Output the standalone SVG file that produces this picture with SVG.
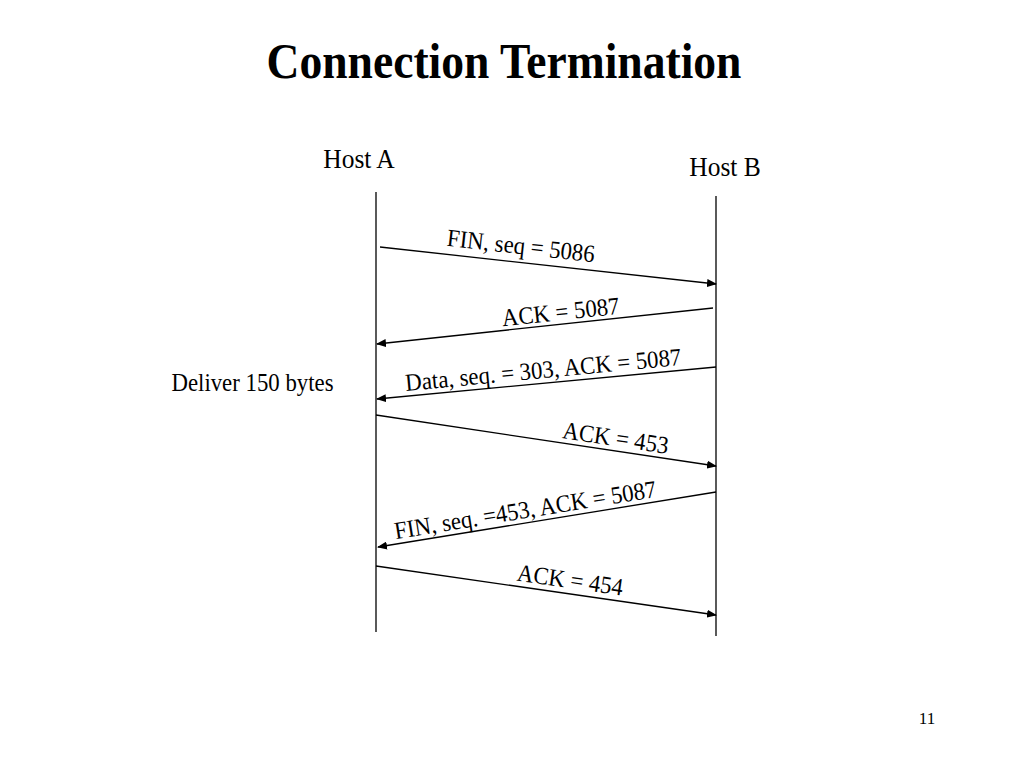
<svg xmlns="http://www.w3.org/2000/svg" width="1024" height="768" viewBox="0 0 1024 768">
<defs>
<marker id="ah" markerWidth="10" markerHeight="8" refX="9" refY="4" orient="auto" markerUnits="userSpaceOnUse">
<path d="M0,0 L10,4 L0,8 Z" fill="#000"/>
</marker>
<style>
text{font-family:"Liberation Serif","Times New Roman",serif;fill:#000}
.lbl{font-size:22.8px;text-anchor:middle}
.host{font-size:25.5px;text-anchor:middle}
.line{stroke:#000;stroke-width:1.3;fill:none}
.msg{stroke:#000;stroke-width:1.3;fill:none;marker-end:url(#ah)}
</style>
</defs>
<rect width="1024" height="768" fill="#fff"/>
<text font-size="45.6" font-weight="bold" text-anchor="middle" transform="translate(504,78) scale(1,1.1)">Connection Termination</text>
<g id="hostA">
<text class="host" transform="translate(359,168) scale(1,1.05)">Host A</text>
<line x1="376" y1="192" x2="376" y2="632" class="line"/>
</g>
<g id="hostB">
<text class="host" transform="translate(725,176) scale(1,1.05)">Host B</text>
<line x1="716" y1="196" x2="716" y2="636" class="line"/>
</g>
<g id="deliver">
<text class="lbl" transform="translate(252.5,391) scale(1,1.08)">Deliver 150 bytes</text>
</g>
<g id="connectors">
<line x1="380" y1="247" x2="716" y2="284" class="msg"/>
<text class="lbl" transform="translate(520,254) rotate(6.3) scale(1,1.08)">FIN, seq = 5086</text>
<line x1="713" y1="308" x2="377" y2="344" class="msg"/>
<text class="lbl" transform="translate(561.5,320) rotate(-6.1) scale(1,1.08)">ACK = 5087</text>
<line x1="716" y1="367" x2="377" y2="399" class="msg"/>
<text class="lbl" transform="translate(544,378) rotate(-5.4) scale(1,1.08)">Data, seq. = 303, ACK = 5087</text>
<line x1="376" y1="415" x2="716" y2="466" class="msg"/>
<text class="lbl" transform="translate(614.5,446) rotate(8.5) scale(1,1.08)">ACK = 453</text>
<line x1="716" y1="492" x2="378" y2="547" class="msg"/>
<text class="lbl" transform="translate(526.5,518) rotate(-9.2) scale(1,1.08)">FIN, seq. =453, ACK = 5087</text>
<line x1="376" y1="566" x2="716" y2="615" class="msg"/>
<text class="lbl" transform="translate(569,588) rotate(8.2) scale(1,1.08)">ACK = 454</text>
</g>
<text x="927" y="724" font-size="17" text-anchor="middle">11</text>
</svg>
